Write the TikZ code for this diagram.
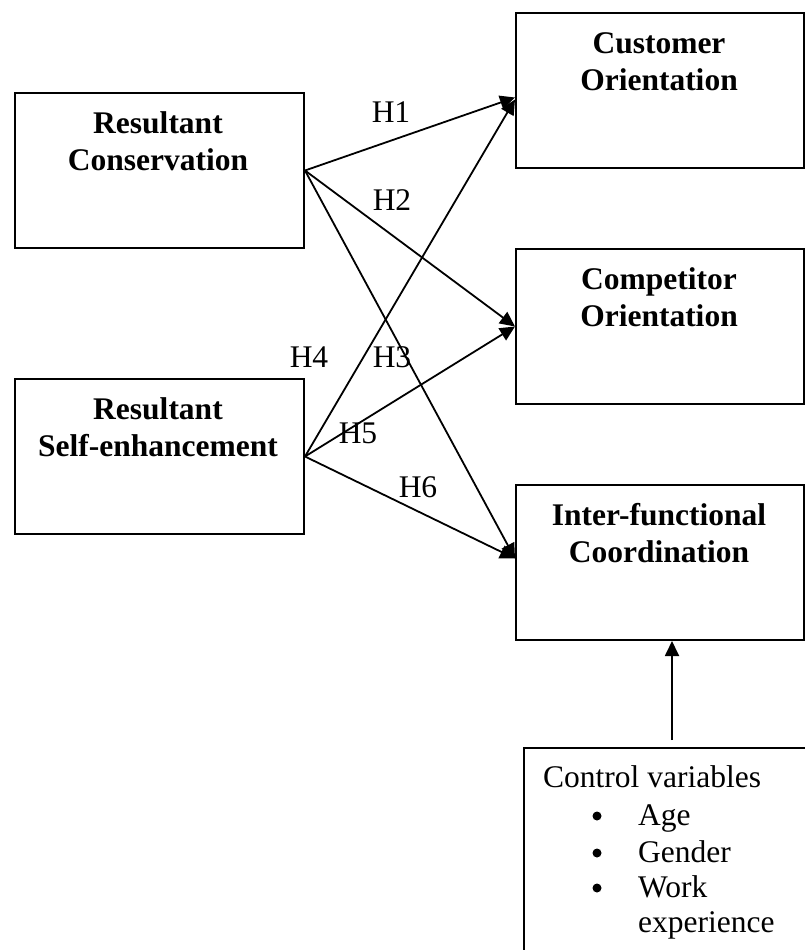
\documentclass[tikz,border=0pt]{standalone}
\usepackage{fontspec}
\setmainfont{Liberation Serif}
\usetikzlibrary{arrows.meta,calc}
\begin{document}
\begin{tikzpicture}[x=1pt,y=-1pt,
 box/.style={draw, line width=2pt, minimum width=289pt, minimum height=155pt, anchor=north west, inner sep=0pt},
 title/.style={font=\fontsize{31.5}{36}\selectfont\bfseries, anchor=base, inner sep=0pt},
 hyp/.style={font=\fontsize{31.5}{36}\selectfont, anchor=base, inner sep=0pt},
 ctl/.style={font=\fontsize{31.5}{36}\selectfont, anchor=base west, inner sep=0pt},
 bul/.style={circle, fill, inner sep=0pt, minimum size=9pt},
 link/.style={line width=1.8pt, -{Triangle[length=15pt,width=14pt]}}]
\useasboundingbox (0,0) rectangle (805,950);
% boxes
\node[box] (rc) at (14,92) {};
\node[box] (rse) at (14,378) {};
\node[box, minimum width=288pt] (co) at (515,12) {};
\node[box, minimum width=288pt] (cpo) at (515,248) {};
\node[box, minimum width=288pt] (ifc) at (515,484) {};
% titles
\node[title] (rc1) at (158,133) {Resultant};
\node[title] (rc2) at (158,170) {Conservation};
\node[title] (rse1) at (158,419) {Resultant};
\node[title] (rse2) at (158,456) {Self-enhancement};
\node[title] (co1) at (659,53) {Customer};
\node[title] (co2) at (659,90) {Orientation};
\node[title] (cpo1) at (659,289) {Competitor};
\node[title] (cpo2) at (659,326) {Orientation};
\node[title] (ifc1) at (659,525) {Inter-functional};
\node[title] (ifc2) at (659,562) {Coordination};
% connectors
\draw[link] (rc.east) -- ([yshift=-7pt]co.west);
\draw[link] (rc.east) -- (cpo.west);
\draw[link] (rc.east) -- ([yshift=4pt]ifc.west);
\draw[link] (rse.east) -- ([yshift=-9pt]co.west);
\draw[link] (rse.east) -- (cpo.west);
\draw[link] (rse.east) -- ([yshift=4pt]ifc.west);
% hypothesis labels
\node[hyp] (h1) at (391,122) {H1};
\node[hyp] (h2) at (392,210) {H2};
\node[hyp] (h3) at (392,367) {H3};
\node[hyp] (h4) at (309,367) {H4};
\node[hyp] (h5) at (358,443) {H5};
\node[hyp] (h6) at (418,497) {H6};
% control variables
\node[draw, line width=1.8pt, anchor=north west, minimum width=300pt, minimum height=230pt, inner sep=0pt] (ctrl) at (523,747) {};
\coordinate (cv) at (672,740);
\draw[link] (cv) -- (cv |- ifc.south);
\node[ctl] (c0) at (543,787) {Control variables};
\node[bul] (b1) at (597,816) {};
\node[ctl] (c1) at (638,825) {Age};
\node[bul] (b2) at (597,853) {};
\node[ctl] (c2) at (638,862) {Gender};
\node[bul] (b3) at (597,888) {};
\node[ctl] (c3) at (638,897) {Work};
\node[ctl] (c4) at (638,932) {experience};
\end{tikzpicture}
\end{document}
